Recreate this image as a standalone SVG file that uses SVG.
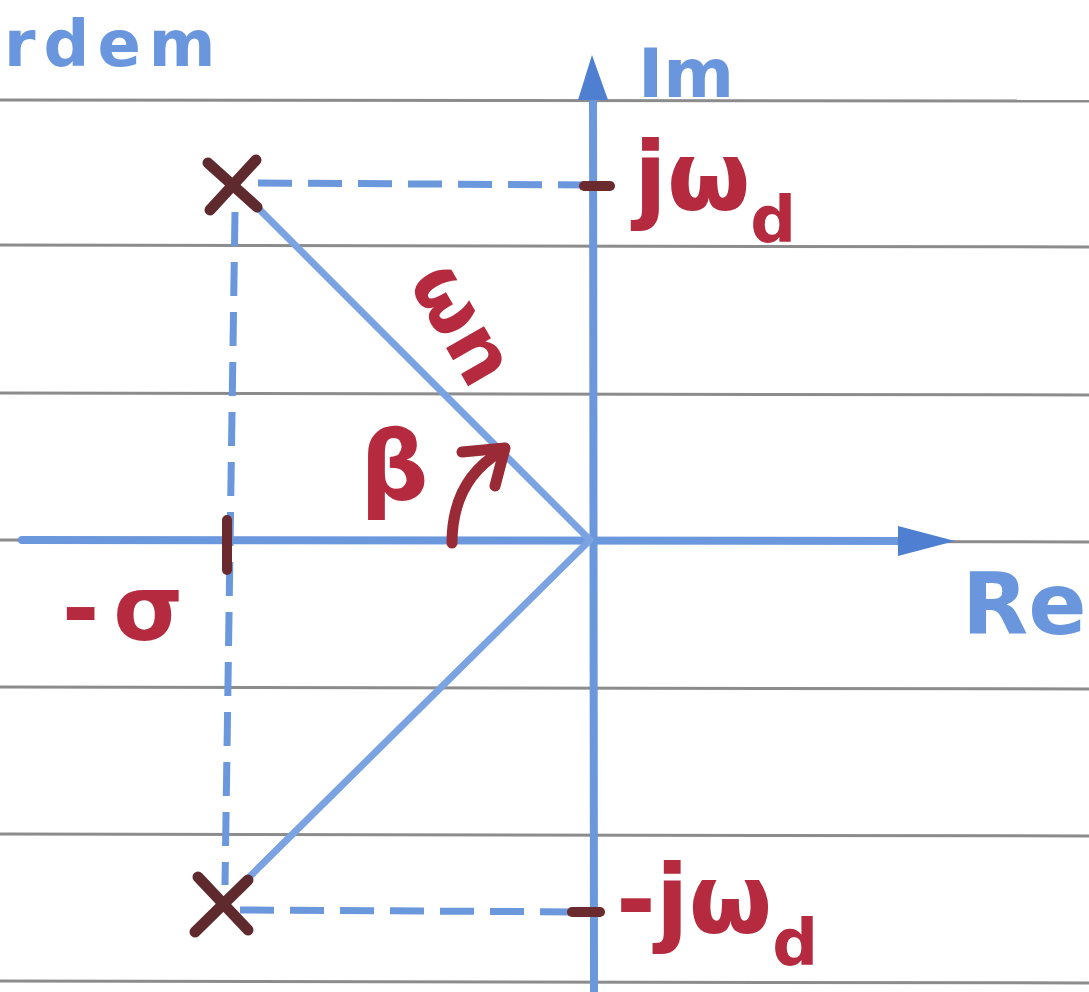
<svg xmlns="http://www.w3.org/2000/svg" width="1089" height="992" viewBox="0 0 1089 992">
<style>
.rule{stroke:#8c8c8c;stroke-width:3;fill:none}
.axis{stroke:#6b97dc;stroke-width:8;fill:none;stroke-linecap:round}
.guide{stroke:#7ba3e2;stroke-width:7;fill:none;stroke-linecap:round}
.dash{stroke:#6b97dc;stroke-width:7;fill:none;stroke-dasharray:34 16}
.tick{stroke:#6b2a2e;stroke-width:10;stroke-linecap:round;fill:none}
.pole{stroke:#5e2a2e;stroke-width:11;stroke-linecap:round;fill:none}
.lblue{fill:#6a96de;font-family:"DejaVu Sans",sans-serif;font-weight:bold}
.lred{fill:#b52a3e;font-family:"DejaVu Sans",sans-serif;font-weight:bold}
</style>
<rect width="1089" height="992" fill="#ffffff"/>
<g id="ruling">
<line class="rule" x1="0" y1="100" x2="1089" y2="101"/>
<line class="rule" x1="0" y1="245" x2="1089" y2="247"/>
<line class="rule" x1="0" y1="393" x2="1089" y2="395"/>
<line class="rule" x1="0" y1="540" x2="1089" y2="542"/>
<line class="rule" x1="0" y1="687" x2="1089" y2="689"/>
<line class="rule" x1="0" y1="834" x2="1089" y2="836"/>
<line class="rule" x1="0" y1="981" x2="1089" y2="983"/>
</g>
<g id="connectors">
<line class="axis" x1="22" y1="540" x2="920" y2="541"/>
<path d="M898,526 L955,541 L898,556 z" fill="#4e7fd0"/>
<line class="axis" x1="594" y1="992" x2="593" y2="85"/>
<path d="M578,100 L592,55 L608,100 z" fill="#4e7fd0"/>
<line class="guide" x1="240" y1="190" x2="590" y2="540"/>
<line class="guide" x1="228" y1="898" x2="588" y2="542"/>
<line class="dash" x1="258" y1="183" x2="590" y2="185"/>
<line class="dash" x1="240" y1="910" x2="590" y2="912"/>
<line class="dash" x1="235" y1="212" x2="225" y2="885"/>
<path d="M452,543 C452,500 470,470 500,452" stroke="#9a2a36" stroke-width="11" fill="none" stroke-linecap="round"/>
<path d="M462,452 L505,448 L495,486" stroke="#9a2a36" stroke-width="11" fill="none" stroke-linecap="round" stroke-linejoin="round"/>
</g>
<g id="ticks">
<line class="tick" x1="584" y1="186" x2="610" y2="186"/>
<line class="tick" x1="227" y1="520" x2="227" y2="570"/>
<line class="tick" x1="572" y1="912" x2="600" y2="912"/>
</g>
<g id="pole-top">
<line class="pole" x1="208" y1="163" x2="257" y2="207"/>
<line class="pole" x1="256" y1="160" x2="210" y2="210"/>
</g>
<g id="pole-bottom">
<line class="pole" x1="198" y1="877" x2="248" y2="930"/>
<line class="pole" x1="248" y1="880" x2="195" y2="932"/>
</g>
<g id="labels">
<text class="lblue" x="4" y="66" font-size="64" letter-spacing="8">rdem</text>
<text class="lblue" x="638" y="97" font-size="68">Im</text>
<text class="lblue" x="962" y="634" font-size="86">Re</text>
<text class="lred" x="634" y="210" font-size="96">jω<tspan font-size="64" dy="32">d</tspan></text>
<text class="lred" x="616" y="933" font-size="96">-jω<tspan font-size="64" dy="32">d</tspan></text>
<text class="lred" x="62" y="640" font-size="90">-<tspan dx="14">σ</tspan></text>
<text class="lred" x="360" y="500" font-size="96">β</text>
<text class="lred" font-size="80" transform="translate(408,282) rotate(60)">ωn</text>
</g>
</svg>
